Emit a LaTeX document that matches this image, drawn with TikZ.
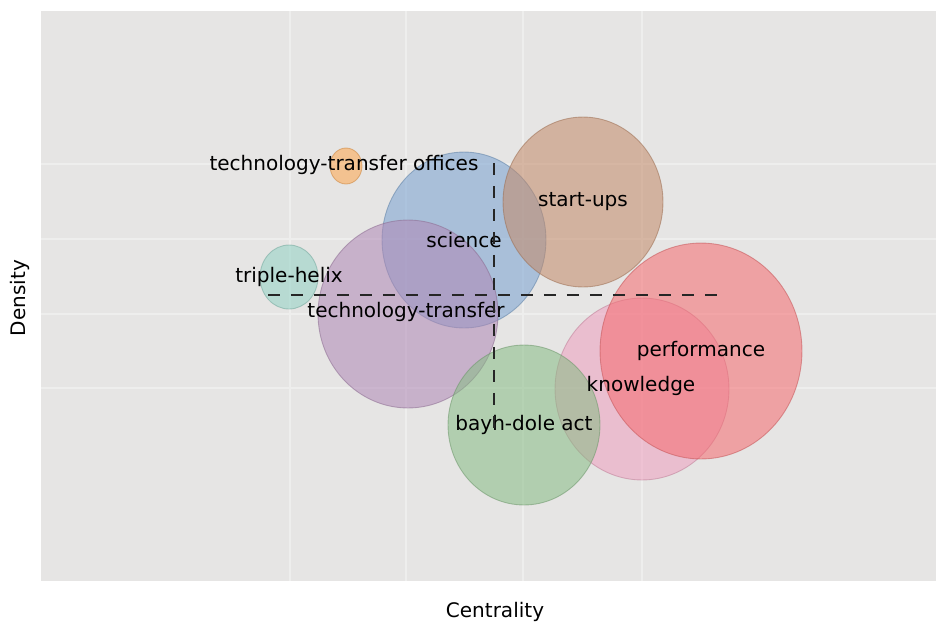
\documentclass[tikz,border=0pt]{standalone}
\usepackage{fontspec}
\setmainfont{DejaVu Sans}
\usetikzlibrary{shapes.geometric}

\definecolor{plotbg}{HTML}{E6E5E4}
\definecolor{gridc}{HTML}{EEEEED}
\definecolor{cOffices}{HTML}{FFA64C}
\definecolor{cScience}{HTML}{77A1D0}
\definecolor{cStartups}{HTML}{C38967}
\definecolor{cTriple}{HTML}{91D2C4}
\definecolor{cTransfer}{HTML}{AF87B5}
\definecolor{cPerf}{HTML}{F66A6E}
\definecolor{cKnow}{HTML}{EF9FBE}
\definecolor{cBayh}{HTML}{87BC84}

\begin{document}
\begin{tikzpicture}[
    x=0.02cm, y=-0.02cm,
    bubble/.style 2 args = {ellipse, inner sep=0pt, line width=0.5pt,
minimum width=#1*0.04cm, minimum height=#2*0.04cm,
fill opacity=0.55, draw opacity=0.55},
    lbl/.style = {inner sep=0pt, text=black, font=\fontsize{11.4}{13}\selectfont},
    quad/.style = {dash pattern=on 0.24cm off 0.22cm, line width=1.5pt, black!85},
    gridline/.style = {gridc, line width=0.9pt}
]

  \useasboundingbox (0,0) rectangle (936,623);
  \fill[plotbg] (41,11) rectangle (936,581);
  \foreach \gx in {290,406,523,642} \draw[gridline] (\gx,11) -- (\gx,581);
  \foreach \gy in {164,239,314,388} \draw[gridline] (41,\gy) -- (936,\gy);

  \node (offices)  [bubble={16}{18},   fill=cOffices,  draw=cOffices!80!black]  at (346,166) {};
  \node (science)  [bubble={82}{88},   fill=cScience,  draw=cScience!80!black]  at (464,240) {};
  \node (startups) [bubble={80}{85},   fill=cStartups, draw=cStartups!80!black] at (583,202) {};
  \node (triple)   [bubble={29}{32},   fill=cTriple,   draw=cTriple!80!black]   at (289,277) {};
  \node (transfer) [bubble={90}{94},   fill=cTransfer, draw=cTransfer!80!black] at (408,314) {};
  \node (know)     [bubble={87}{91},   fill=cKnow,     draw=cKnow!80!black]     at (642,389) {};
  \node (perf)     [bubble={101}{108}, fill=cPerf,     draw=cPerf!80!black]     at (701,351) {};
  \node (bayh)     [bubble={76}{80},   fill=cBayh,     draw=cBayh!80!black]     at (524,425) {};

  \node (lOffices)  [lbl] at (344,165) {technology-transfer offices};
  \node (lScience)  [lbl] at (science)  {science};
  \node (lStartups) [lbl] at (startups) {start-ups};
  \node (lTriple)   [lbl] at (triple)   {triple-helix};
  \node (lTransfer) [lbl] at (406,312)  {technology-transfer};
  \node (lPerf)     [lbl] at (perf)     {performance};
  \node (lKnow)     [lbl] at (641,386)  {knowledge};
  \node (lBayh)     [lbl] at (bayh)     {bayh-dole act};

  \coordinate (hW) at (268,295);
  \coordinate (hE) at (722,295);
  \coordinate (vN) at (494,163);
  \coordinate (vS) at (494,437);
  \draw[quad] (hW) -- (hE);
  \draw[quad] (vN) -- (vS);

  \node (xlab) [lbl] at (495,612) {Centrality};
  \node (ylab) [lbl, rotate=90] at (20,298) {Density};

\end{tikzpicture}
\end{document}
